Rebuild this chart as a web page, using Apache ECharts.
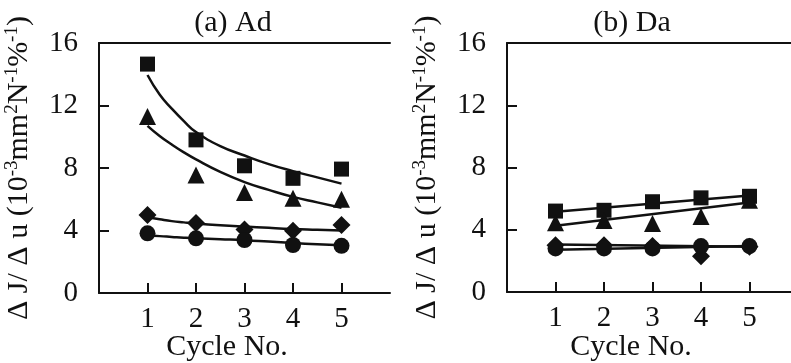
<!DOCTYPE html>
<html><head><meta charset="utf-8">
<script src="https://cdn.jsdelivr.net/npm/echarts@6/dist/echarts.min.js"></script>
<style>html,body{margin:0;padding:0;background:#fff}#c{width:791px;height:363px}</style>
</head><body><div id="c"></div>
<script>
// Categories (cycle numbers)
const cycles = [1, 2, 3, 4, 5];
const xTickLabels = [1, 2, 3, 4, 5];
const yTicks = [0, 4, 8, 12, 16];

// (a) Ad measured points
const adSquare   = [14.65, 9.8, 8.14, 7.34, 7.93];
const adTriangle = [11.3, 7.55, 6.43, 6.06, 6.0];
const adDiamond  = [4.99, 4.48, 4.06, 3.98, 4.35];
const adCircle   = [3.82, 3.5, 3.39, 3.07, 3.02];

// (a) Ad fitted curves
const adFitX        = [1, 1.25, 1.5, 1.75, 2, 2.5, 3, 3.5, 4, 4.5, 5];
const adFitSquare   = [13.95, 12.7, 11.8, 11.0, 10.3, 9.4, 8.8, 8.25, 7.8, 7.4, 7.0];
const adFitTriangle = [10.7, 10.05, 9.5, 9.0, 8.55, 7.75, 7.1, 6.6, 6.15, 5.8, 5.45];
const adFitDiamond  = [4.85, 4.72, 4.6, 4.52, 4.45, 4.34, 4.25, 4.17, 4.1, 4.05, 4.0];
const adFitCircle   = [3.7, 3.64, 3.59, 3.54, 3.5, 3.44, 3.38, 3.29, 3.2, 3.12, 3.05];

// (b) Da measured points
const daSquare   = [5.2, 5.25, 5.8, 6.05, 6.15];
const daTriangle = [4.45, 4.6, 4.4, 4.85, 5.9];
const daDiamond  = [3.0, 3.0, 2.95, 2.3, 2.9];
const daCircle   = [2.8, 2.8, 2.8, 2.95, 2.95];

// (b) Da fitted lines
const daFitX        = [1, 5];
const daFitSquare   = [5.15, 6.2];
const daFitTriangle = [4.25, 5.75];
const daFitDiamond  = [3.05, 2.9];
const daFitCircle   = [2.72, 2.95];

const FONT = '"Liberation Serif","Times New Roman",serif';
const INK = '#111';

function pts(xs, ys) { return xs.map((x, i) => [x, ys[i]]); }

const grids = [
  {left: 99, top: 43, width: 291, height: 250, outerBoundsMode: 'none', containLabel: false},
  {left: 507, top: 43, width: 291, height: 249, outerBoundsMode: 'none', containLabel: false}
];

const yName = '{n|Δ J/ Δ u (10}{s|-3}{n|mm}{s|2}{n|N}{s|-1}{n|%}{s|-1}{n|)}';

const xAxes = [], yAxes = [];
grids.forEach((g, gi) => {
  xAxes.push({
    type: 'value', gridIndex: gi, min: 0, max: 6, interval: 1, position: 'bottom',
    axisLine: {show: true, onZero: false, lineStyle: {color: INK, width: 2}},
    axisTick: {show: true, inside: true, length: 10, customValues: xTickLabels, lineStyle: {color: INK, width: 2}},
    axisLabel: {show: true, customValues: xTickLabels, margin: 12, color: INK, fontFamily: FONT, fontSize: 29},
    splitLine: {show: false}
  });
  xAxes.push({
    type: 'value', gridIndex: gi, min: 0, max: 6, position: 'top',
    axisLine: {show: true, onZero: false, lineStyle: {color: INK, width: 2}},
    axisTick: {show: false}, axisLabel: {show: false}, splitLine: {show: false}
  });
  yAxes.push({
    type: 'value', gridIndex: gi, min: 0, max: 16, interval: 4,
    axisLine: {show: true, onZero: false, lineStyle: {color: INK, width: 2}},
    axisTick: {show: true, inside: true, length: 10, lineStyle: {color: INK, width: 2}},
    axisLabel: {margin: 21, color: INK, fontFamily: FONT, fontSize: 29},
    splitLine: {show: false},
    name: yName, nameLocation: 'middle', nameRotate: 90, nameGap: 63,
    nameTextStyle: {
      color: INK, fontFamily: FONT, fontSize: 30,
      rich: {
        n: {fontFamily: FONT, fontSize: 30, color: INK, lineHeight: 33},
        s: {fontFamily: FONT, fontSize: 19, color: INK, lineHeight: 33, verticalAlign: 'top', padding: [0, 0, 14, 0]}
      }
    }
  });
});

function scatter(gi, data, symbol, size) {
  return {type: 'scatter', xAxisIndex: gi * 2, yAxisIndex: gi, symbol, symbolSize: size,
    itemStyle: {color: INK, opacity: 1}, data: pts(cycles, data), z: 3, silent: true};
}
function fit(gi, xs, ys, smooth) {
  return {type: 'line', xAxisIndex: gi * 2, yAxisIndex: gi, showSymbol: false, smooth: smooth,
    lineStyle: {color: INK, width: 2.5}, data: pts(xs, ys), z: 2, silent: true};
}

const series = [
  fit(0, adFitX, adFitSquare, true), fit(0, adFitX, adFitTriangle, true),
  fit(0, adFitX, adFitDiamond, true), fit(0, adFitX, adFitCircle, true),
  scatter(0, adSquare, 'rect', 15), scatter(0, adTriangle, 'triangle', 17),
  scatter(0, adDiamond, 'diamond', 18), scatter(0, adCircle, 'circle', 16),
  fit(1, daFitX, daFitSquare, false), fit(1, daFitX, daFitTriangle, false),
  fit(1, daFitX, daFitDiamond, false), fit(1, daFitX, daFitCircle, false),
  scatter(1, daSquare, 'rect', 15), scatter(1, daTriangle, 'triangle', 17),
  scatter(1, daDiamond, 'diamond', 18), scatter(1, daCircle, 'circle', 16)
];

function label(text, x, y) {
  return {type: 'text', x: x, y: y, style: {text: text, fill: INK, font: '30px ' + FONT, textAlign: 'center', textVerticalAlign: 'middle'}};
}

const chart = echarts.init(document.getElementById('c'), null, {renderer: 'canvas'});
chart.setOption({
  backgroundColor: '#fff',
  animation: false,
  grid: grids,
  xAxis: xAxes,
  yAxis: yAxes,
  graphic: [
    label('(a) Ad', 233, 23), label('(b) Da', 632, 23),
    label('Cycle No.', 227, 347), label('Cycle No.', 631, 347)
  ],
  series: series
});
</script></body></html>
